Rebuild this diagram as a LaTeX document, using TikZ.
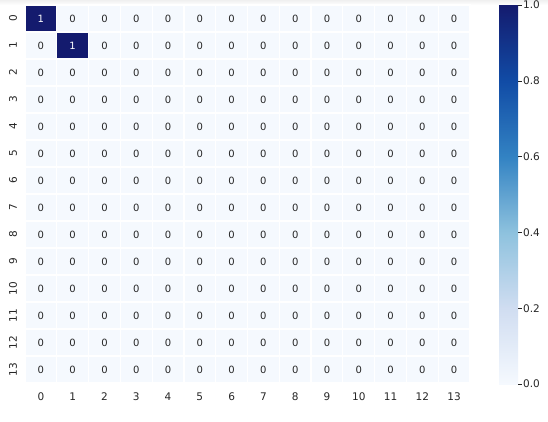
\documentclass[tikz,border=0pt]{standalone}
\usepackage{fontspec}
\setmainfont{DejaVu Sans}
\definecolor{txt}{HTML}{262626}
\definecolor{lowc}{HTML}{F5F9FE}
\definecolor{highc}{HTML}{141B6E}
\definecolor{cA}{HTML}{F5F9FE}
\definecolor{cB}{HTML}{D0DDF1}
\definecolor{cC}{HTML}{8EC2DE}
\definecolor{cD}{HTML}{3383C3}
\definecolor{cE}{HTML}{114CA6}
\definecolor{cF}{HTML}{141B6E}
\tikzset{
  cell/.style={fill=#1, draw=white, line width=1.2pt},
  ann/.style={font=\fontsize{10}{12}\selectfont, text=txt, inner sep=0pt},
  annw/.style={font=\fontsize{10}{12}\selectfont, text=white, inner sep=0pt},
  tick/.style={font=\fontsize{10.5}{12}\selectfont, text=txt, inner sep=0pt},
  cbtick/.style={draw=txt, line width=0.6pt},
}
\begin{document}
\begin{tikzpicture}[x=1pt,y=-1pt]
\useasboundingbox (0,0) rectangle (548,421);
\fill[white] (0,0) rectangle (548,421);
\shade[top color=black!6, bottom color=white] (0,0) rectangle (548,5);
\pgfmathsetmacro{\cw}{445/14}
\pgfmathsetmacro{\ch}{378/14}
\foreach \i in {0,...,13}{
  \foreach \j in {0,...,13}{
    \pgfmathtruncatemacro{\diag}{(\i==\j && \i<2) ? 1 : 0}
    \ifnum\diag=1
      \path[cell=highc] ({25+\j*\cw},{5+\i*\ch}) rectangle ({25+(\j+1)*\cw},{5+(\i+1)*\ch});
      \node[annw] (c\i-\j) at ({25+(\j+0.5)*\cw},{5+(\i+0.5)*\ch}) {1};
    \else
      \path[cell=lowc] ({25+\j*\cw},{5+\i*\ch}) rectangle ({25+(\j+1)*\cw},{5+(\i+1)*\ch});
      \node[ann] (c\i-\j) at ({25+(\j+0.5)*\cw},{5+(\i+0.5)*\ch}) {0};
    \fi
  }
  \node[tick, rotate=90] (r\i) at (13,{5+(\i+0.5)*\ch}) {\i};
  \node[tick] (k\i) at ({25+(\i+0.5)*\cw},397) {\i};
}
% colorbar
\def\cbx{499}\def\cbX{518}
\shade[bottom color=cA, top color=cB] (\cbx,384) rectangle (\cbX,308.4);
\shade[bottom color=cB, top color=cC] (\cbx,308.4) rectangle (\cbX,232.8);
\shade[bottom color=cC, top color=cD] (\cbx,232.8) rectangle (\cbX,157.2);
\shade[bottom color=cD, top color=cE] (\cbx,157.2) rectangle (\cbX,81.6);
\shade[bottom color=cE, top color=cF] (\cbx,81.6) rectangle (\cbX,5);
\foreach \v/\lab in {0/0.0,1/0.2,2/0.4,3/0.6,4/0.8,5/1.0}{
  \coordinate (t\v) at (\cbX,{384-\v*75.8});
  \draw[cbtick] (t\v) -- ++(3.5,0);
  \node[tick, anchor=west] (l\v) at ([xshift=5pt]t\v) {\lab};
}
\end{tikzpicture}
\end{document}
